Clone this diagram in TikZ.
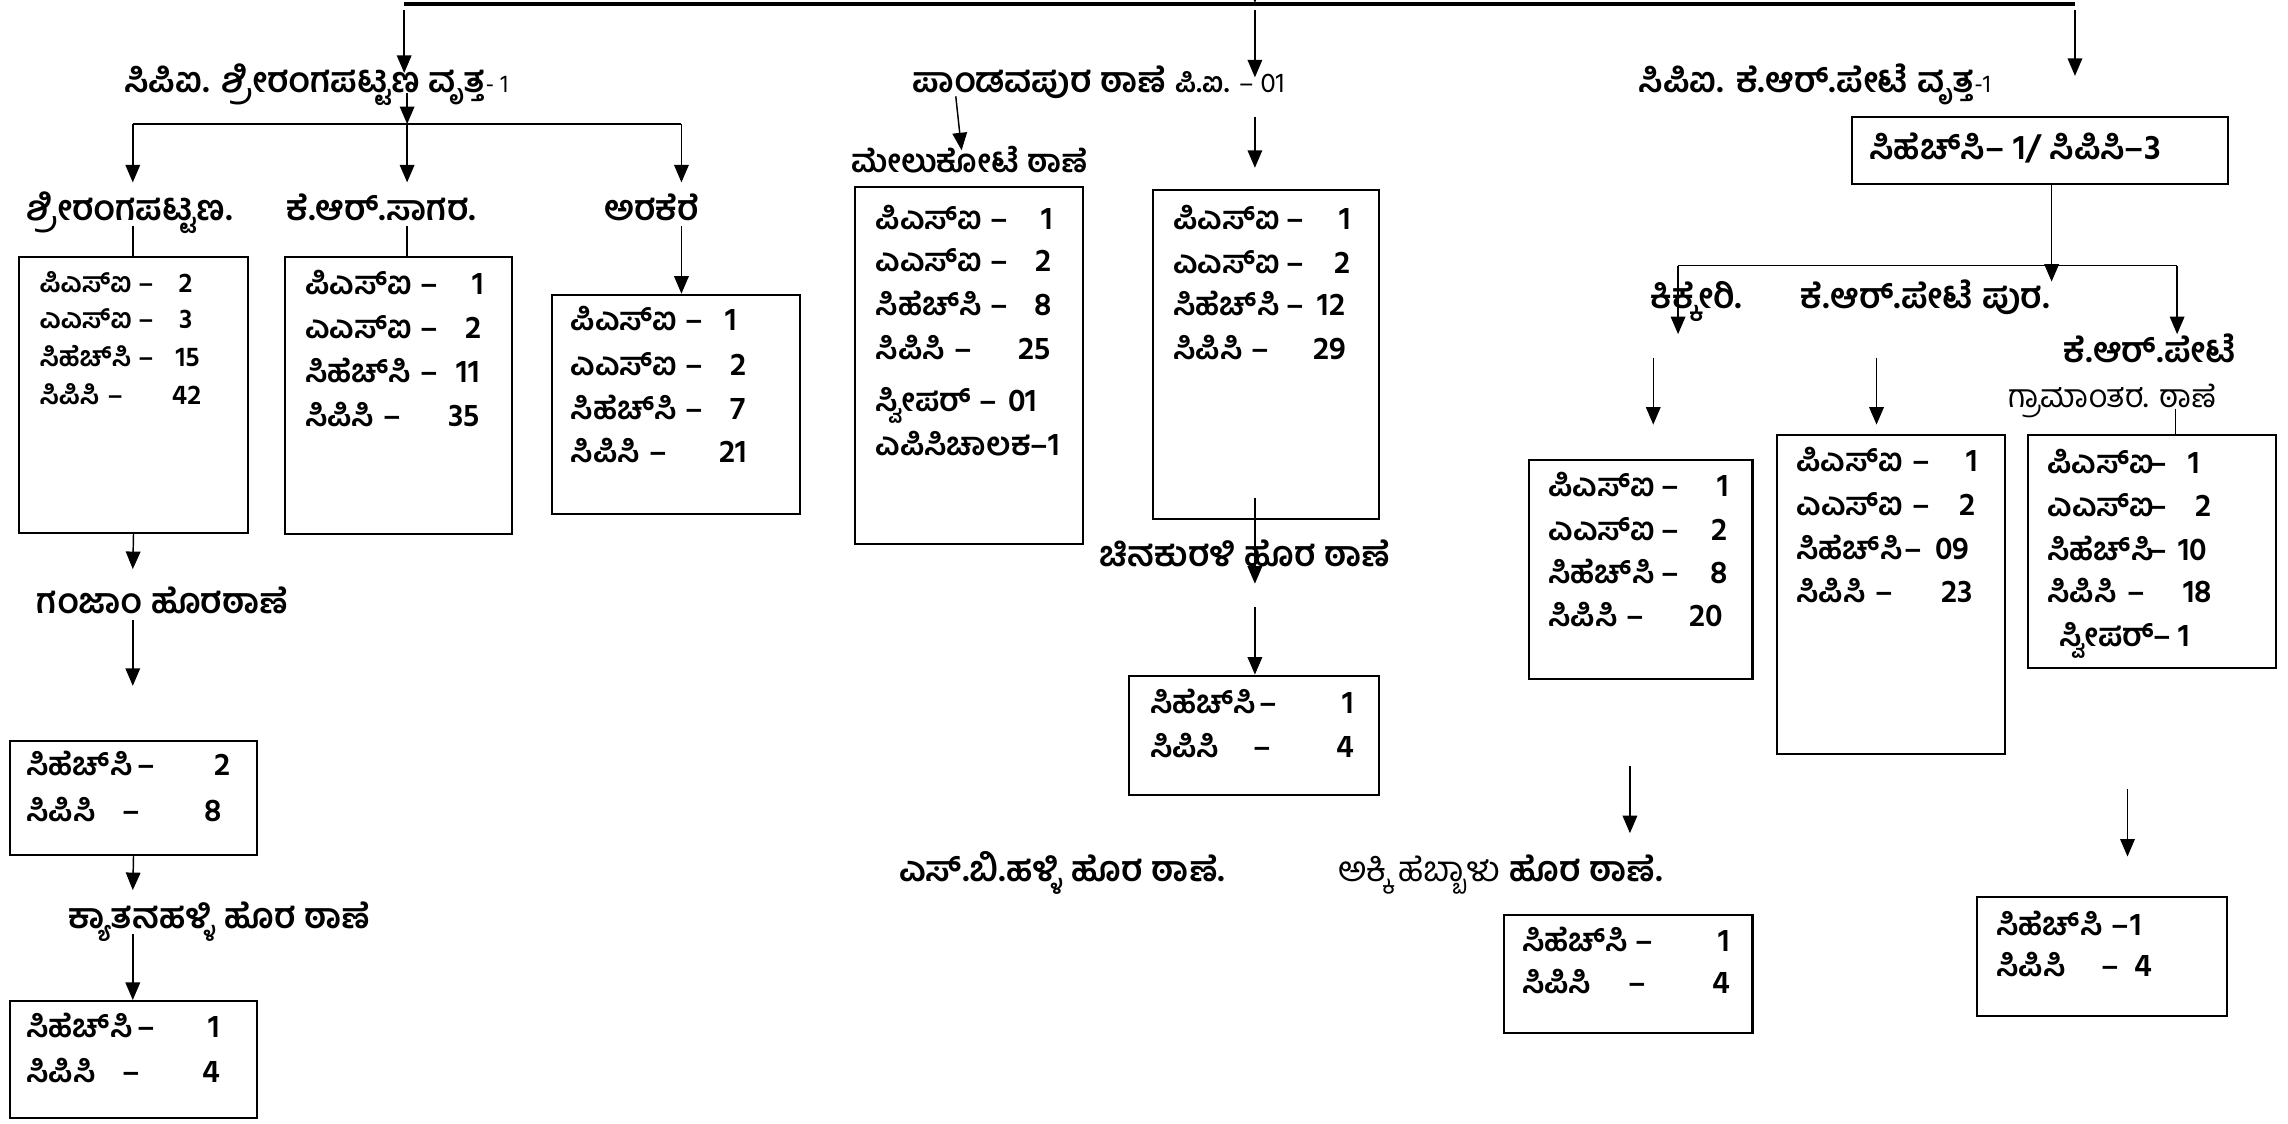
\documentclass[tikz,border=0pt]{standalone}
\usepackage{fontspec}
\newfontfamily\kn{Hind Mysuru}[Script=Kannada]
\usetikzlibrary{arrows.meta}
\newcounter{kr}
\def\kfsz{22}
\newcommand\kbox[5]{\node[bx, minimum width={#4-#2}, minimum height={#5-#3}] (#1) at ({(#2+#4)/2},{(#3+#5)/2}) {};}
\newcommand\krow[6]{\stepcounter{kr}%
  \node[tx,anchor=mid west] (r\arabic{kr}a) at (#1,#4) {#5};%
  \node[tx,anchor=mid] (r\arabic{kr}b) at (#2,#4) {–};%
  \node[tx,anchor=mid east] (r\arabic{kr}c) at (#3,#4) {#6};}
\newcommand\kline[3]{\stepcounter{kr}\node[tx,anchor=mid west] (r\arabic{kr}a) at (#1,#2) {#3};}
\tikzset{
  arr/.style={-{Triangle[length=12pt,width=10pt]}, line width=1pt},
  ln/.style={line width=1pt},
  topline/.style={line width=2.6pt},
  bx/.style={draw, line width=1.4pt, rectangle, inner sep=0pt},
  tx/.style={font=\fontsize{\kfsz}{\kfsz}\kn\bfseries, inner sep=0pt, yshift=-5pt},
  hd/.style={font=\fontsize{24}{24}\kn\bfseries, inner sep=0pt, anchor=mid west, yshift=-6pt},
  hdr/.style={font=\fontsize{22}{22}\kn, inner sep=0pt, anchor=mid west, yshift=-6pt},
}
\begin{document}
\begin{tikzpicture}[x=1pt,y=-1pt]
\useasboundingbox[fill=white] (0,0) rectangle (1568,770);
% ---------- top line ----------
\coordinate (T0) at (277,3); \coordinate (T1) at (1422,3);
\coordinate (Tin) at (860,-30); \coordinate (Tc) at (860,2);
\draw[topline] (T0) -- (T1);
\draw[arr] (Tin) -- (Tc);
\coordinate (L0) at (277,7); \coordinate (L1) at (277,50);
\coordinate (M0) at (860,7); \coordinate (M1) at (860,53);
\coordinate (R0) at (1422,7); \coordinate (R1) at (1422,52);
\draw[arr] (L0) -- (L1);
\draw[arr] (M0) -- (M1);
\draw[arr] (R0) -- (R1);
% ---------- headings ----------
\node[hd] (hL) at (85,55) {ಸಿಪಿಐ. ಶ್ರೀರಂಗಪಟ್ಟಣ ವೃತ್ತ{\mdseries\fontsize{17}{17}\selectfont- 1}};
\node[hd] (hM) at (625,55) {ಪಾಂಡವಪುರ ಠಾಣೆ {\fontsize{19}{19}\selectfont ಪಿ.ಐ. {\mdseries – 01}}};
\node[hd] (hR) at (1123,55) {ಸಿಪಿಐ. ಕೆ.ಆರ್.ಪೇಟೆ ವೃತ್ತ{\mdseries\fontsize{17}{17}\selectfont-1}};
% ---------- left branch ----------
\coordinate (Lb0) at (279,64); \coordinate (Lb) at (279,85);
\coordinate (BrL) at (91,85); \coordinate (BrR) at (467,85);
\draw[arr] (Lb0) -- (Lb);
\draw[ln] (BrL) -- (BrR);
\coordinate (sA) at (91,125); \coordinate (sB) at (279,125); \coordinate (sC) at (467,125);
\draw[arr] (BrL) -- (sA);
\draw[arr] (Lb) -- (sB);
\draw[arr] (BrR) -- (sC);
\node[hd] (nA) at (18,143) {ಶ್ರೀರಂಗಪಟ್ಟಣ.};
\node[hd] (nB) at (196,143) {ಕೆ.ಆರ್.ಸಾಗರ.};
\node[hd] (nC) at (414,143) {ಅರಕೆರೆ};
\kbox{bA}{13}{176}{170}{365}
\kbox{bB}{195}{176}{351}{366}
\kbox{bC}{378}{202}{548}{352}
\coordinate (uA) at (91,155); \coordinate (uB) at (279,155); \coordinate (uC) at (467,155);
\draw[ln] (uA) -- (uA |- bA.north);
\draw[ln] (uB) -- (uB |- bB.north);
\draw[arr] (uC) -- (uC |- bC.north);
\def\kfsz{19}
\krow{27}{100}{132}{193}{ಪಿಎಸ್ಐ}{2}
\krow{27}{100}{132}{218}{ಎಎಸ್ಐ}{3}
\krow{27}{100}{137}{244}{ಸಿಹೆಚ್‌ಸಿ}{15}
\krow{27}{79}{138}{270}{ಸಿಪಿಸಿ}{42}
\def\kfsz{22}
\krow{209}{294}{332}{195}{ಪಿಎಸ್ಐ}{1}
\krow{209}{294}{330}{225}{ಎಎಸ್ಐ}{2}
\krow{209}{294}{329}{255}{ಸಿಹೆಚ್‌ಸಿ}{11}
\krow{209}{269}{329}{285}{ಸಿಪಿಸಿ}{35}
\krow{391}{476}{505}{219}{ಪಿಎಸ್ಐ}{1}
\krow{391}{476}{512}{250}{ಎಎಸ್ಐ}{2}
\krow{391}{476}{511}{280}{ಸಿಹೆಚ್‌ಸಿ}{7}
\krow{391}{451}{512}{310}{ಸಿಪಿಸಿ}{21}
% ganjam
\coordinate (gA) at (91,390);
\draw[arr] (bA.south) -- (gA);
\node[hd] (nG) at (25,412) {ಗಂಜಾಂ ಹೊರಠಾಣೆ};
\coordinate (gB) at (91,425); \coordinate (gC) at (91,470);
\draw[arr] (gB) -- (gC);
\kbox{bD}{7}{508}{176}{586}
\krow{18}{100}{158}{524}{ಸಿಹೆಚ್‌ಸಿ}{2}
\krow{18}{90}{152}{556}{ಸಿಪಿಸಿ}{8}
\coordinate (kA) at (91,610);
\draw[arr] (bD.south) -- (kA);
\node[hd] (nK) at (47,628) {ಕ್ಯಾತನಹಳ್ಳಿ ಹೊರ ಠಾಣೆ};
\coordinate (kB) at (91,640);
\kbox{bE}{7}{686}{176}{766}
\draw[arr] (kB) -- (kB |- bE.north);
\krow{18}{100}{151}{704}{ಸಿಹೆಚ್‌ಸಿ}{1}
\krow{18}{90}{151}{735}{ಸಿಪಿಸಿ}{4}
% ---------- middle branch ----------
\coordinate (dA) at (655,66); \coordinate (dB) at (659,103);
\draw[arr] (dA) -- (dB);
\node[hd, font=\fontsize{22}{22}\kn\bfseries] (nF) at (583,110) {ಮೇಲುಕೋಟೆ ಠಾಣೆ};
\coordinate (mA) at (860,80); \coordinate (mB) at (860,115);
\draw[arr] (mA) -- (mB);
\kbox{bF}{586}{128}{742}{373}
\kbox{bG}{790}{130}{945}{356}
\krow{600}{685}{722}{150}{ಪಿಎಸ್ಐ}{1}
\krow{600}{685}{721}{179}{ಎಎಸ್ಐ}{2}
\krow{600}{685}{721}{209}{ಸಿಹೆಚ್‌ಸಿ}{8}
\krow{600}{660}{720}{239}{ಸಿಪಿಸಿ}{25}
\krow{600}{677}{711}{275}{ಸ್ವೀಪರ್}{01}
\kline{600}{305}{ಎಪಿಸಿಚಾಲಕ–1}
\krow{804}{888}{926}{150}{ಪಿಎಸ್ಐ}{1}
\krow{804}{888}{926}{180}{ಎಎಸ್ಐ}{2}
\krow{804}{888}{922}{209}{ಸಿಹೆಚ್‌ಸಿ}{12}
\krow{804}{864}{923}{239}{ಸಿಪಿಸಿ}{29}
\coordinate (cA) at (860,341); \coordinate (cB) at (860,400);
\draw[arr] (cA) -- (cB);
\node[hd] (nH) at (753,380) {ಚಿನಕುರಳಿ ಹೊರ ಠಾಣೆ};
\coordinate (cC) at (860,416);
\kbox{bH}{774}{463}{945}{545}
\draw[arr] (cC) -- (cC |- bH.north);
\krow{788}{869}{928}{482}{ಸಿಹೆಚ್‌ಸಿ}{1}
\krow{788}{865}{928}{512}{ಸಿಪಿಸಿ}{4}
\node[hd] (nS) at (616,596) {ಎಸ್.ಬಿ.ಹಳ್ಳಿ ಹೊರ ಠಾಣೆ.};
\node[hd] (nAk) at (917,596) {{\mdseries ಅಕ್ಕಿ ಹೆಬ್ಬಾಳು} ಹೊರ ಠಾಣೆ.};
% ---------- right branch ----------
\kbox{bK}{1269}{80}{1527}{126}
\node[hd] (tK) at (1281,101) {ಸಿಹೆಚ್‌ಸಿ– 1/ ಸಿಪಿಸಿ–3};
\coordinate (kx) at (1406,193);
\draw[arr] (kx |- bK.south) -- (kx);
\coordinate (qL) at (1150,182); \coordinate (qR) at (1492,182);
\draw[ln] (qL) -- (qR);
\coordinate (qL2) at (1150,229); \coordinate (qR2) at (1492,229);
\draw[arr] (qL) -- (qL2);
\draw[arr] (qR) -- (qR2);
\node[hd] (nL) at (1131,203) {ಕಿಕ್ಕೇರಿ.};
\node[hd] (nM) at (1234,203) {ಕೆ.ಆರ್.ಪೇಟೆ ಪುರ.};
\node[hd] (nN1) at (1414,240) {ಕೆ.ಆರ್.ಪೇಟೆ};
\node[hdr] (nN2) at (1376,271) {ಗ್ರಾಮಾಂತರ. ಠಾಣೆ};
\kbox{bL}{1048}{315}{1201}{465}
\kbox{bM}{1218}{298}{1374}{517}
\kbox{bN}{1390}{298}{1560}{458}
\coordinate (nx) at (1491,280);
\draw[ln] (nx) -- (nx |- bN.north);
\coordinate (pA) at (1133,245); \coordinate (pB) at (1133,291);
\coordinate (pC) at (1286,245); \coordinate (pD) at (1286,291);
\draw[arr] (pA) -- (pB);
\draw[arr] (pC) -- (pD);
\krow{1061}{1145}{1185}{333}{ಪಿಎಸ್ಐ}{1}
\krow{1061}{1145}{1184}{363}{ಎಎಸ್ಐ}{2}
\krow{1061}{1145}{1184}{393}{ಸಿಹೆಚ್‌ಸಿ}{8}
\krow{1061}{1121}{1181}{422}{ಸಿಪಿಸಿ}{20}
\krow{1231}{1317}{1356}{316}{ಪಿಎಸ್ಐ}{1}
\krow{1231}{1317}{1354}{346}{ಎಎಸ್ಐ}{2}
\krow{1231}{1311}{1350}{376}{ಸಿಹೆಚ್‌ಸಿ}{09}
\krow{1231}{1291}{1352}{406}{ಸಿಪಿಸಿ}{23}
\krow{1403}{1479}{1508}{317}{ಪಿಎಸ್ಐ}{1}
\krow{1403}{1479}{1516}{347}{ಎಎಸ್ಐ}{2}
\krow{1403}{1479}{1513}{377}{ಸಿಹೆಚ್‌ಸಿ}{10}
\krow{1403}{1464}{1516}{406}{ಸಿಪಿಸಿ}{18}
\krow{1411}{1482}{1501}{436}{ಸ್ವೀಪರ್}{1}
\coordinate (iA) at (1117,525); \coordinate (iB) at (1117,571);
\draw[arr] (iA) -- (iB);
\kbox{bI}{1031}{627}{1201}{708}
\krow{1043}{1127}{1186}{645}{ಸಿಹೆಚ್‌ಸಿ}{1}
\krow{1043}{1122}{1186}{674}{ಸಿಪಿಸಿ}{4}
\coordinate (jA) at (1458,541); \coordinate (jB) at (1458,587);
\draw[arr] (jA) -- (jB);
\kbox{bJ}{1355}{615}{1526}{696}
\krow{1368}{1453}{1468}{634}{ಸಿಹೆಚ್‌ಸಿ}{1}
\krow{1368}{1446}{1475}{662}{ಸಿಪಿಸಿ}{4}
\end{tikzpicture}
\end{document}
